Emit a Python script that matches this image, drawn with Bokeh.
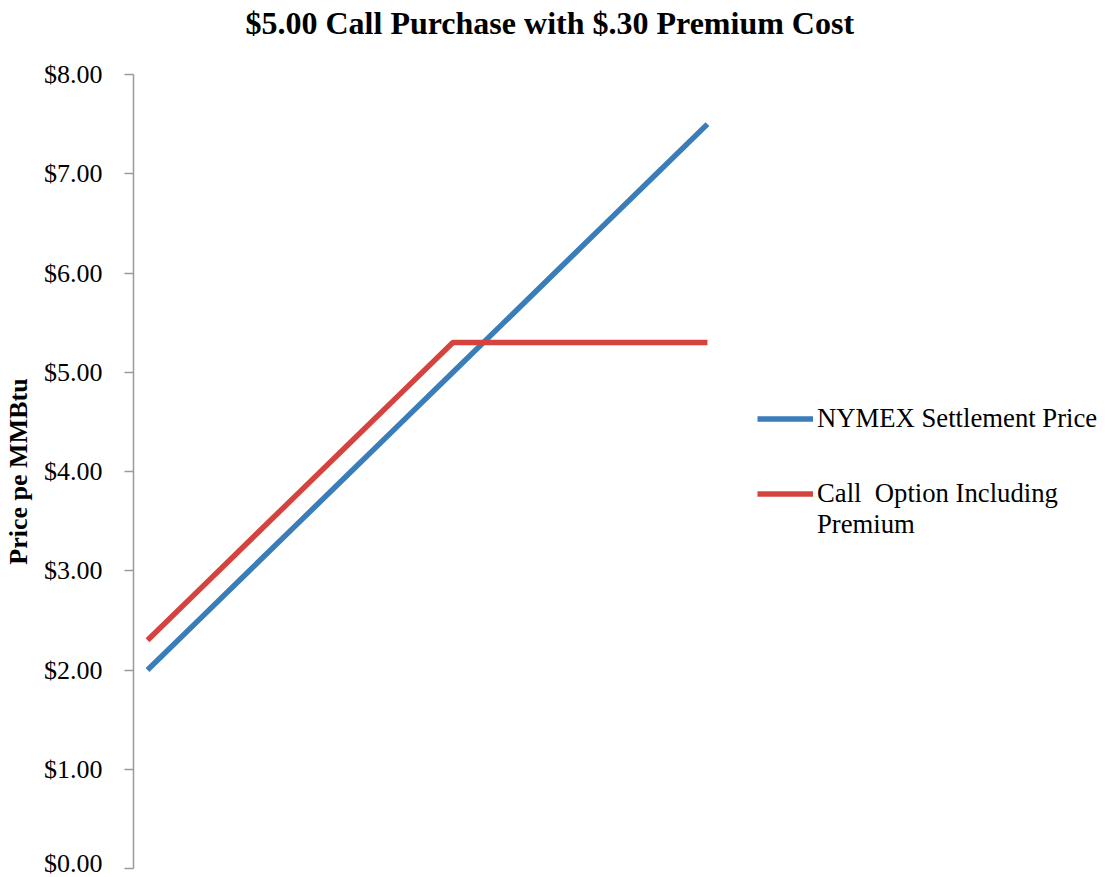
from bokeh.plotting import figure
from bokeh.models import Legend, LegendItem, Range1d, NumeralTickFormatter, FixedTicker, Title
from bokeh.embed import file_html
from bokeh.resources import INLINE

# NYMEX settlement prices (x) and the resulting cost per MMBtu
settlement = [2.00, 2.50, 3.00, 3.50, 4.00, 4.50, 5.00, 5.50, 6.00, 6.50, 7.00, 7.50]
nymex_price = [2.00, 2.50, 3.00, 3.50, 4.00, 4.50, 5.00, 5.50, 6.00, 6.50, 7.00, 7.50]
call_with_premium = [2.30, 2.80, 3.30, 3.80, 4.30, 4.80, 5.30, 5.30, 5.30, 5.30, 5.30, 5.30]
y_ticks = [0, 1, 2, 3, 4, 5, 6, 7, 8]
title_text = "$5.00 Call Purchase with $.30 Premium Cost"

SERIF = "Liberation Serif"
BLUE = "#3A7DB9"
RED = "#D6433F"

p = figure(width=1105, height=877, output_backend="svg", toolbar_location=None,
           x_range=Range1d(1.8625, 11.41), y_range=Range1d(0, 8),
           min_border_left=133, min_border_right=0, min_border_bottom=9,
           min_border_top=0)

# gap between the title and the top of the plot
p.add_layout(Title(text=" ", text_font_size="1px", standoff=25), "above")

p.title.text = title_text
p.title.text_font = SERIF
p.title.text_font_size = "32px"
p.title.text_font_style = "bold"
p.title.text_color = "black"
p.title.align = "left"
p.title.offset = 112
p.title.vertical_align = "top"
p.title.standoff = 8

p.outline_line_color = None
p.xgrid.visible = False
p.ygrid.visible = False
p.xaxis.visible = False

ya = p.yaxis[0]
ya.ticker = FixedTicker(ticks=y_ticks)
ya.formatter = NumeralTickFormatter(format="$0.00")
ya.axis_line_color = "#9A9A9A"
ya.axis_line_width = 1.5
ya.major_tick_line_color = "#9A9A9A"
ya.major_tick_line_width = 1.5
ya.major_tick_in = 0
ya.major_tick_out = 9
ya.minor_tick_line_color = None
ya.major_label_text_font = SERIF
ya.major_label_text_font_size = "26px"
ya.major_label_text_color = "black"
ya.major_label_standoff = 22
ya.axis_label = "Price pe MMBtu"
ya.axis_label_text_font = SERIF
ya.axis_label_text_font_style = "bold"
ya.axis_label_text_font_size = "26px"
ya.axis_label_text_color = "black"
ya.axis_label_standoff = 8

r1 = p.line(settlement, nymex_price, line_color=BLUE, line_width=5.5)
r2 = p.line(settlement, call_with_premium, line_color=RED, line_width=5.5)
# second text line of the red entry carries no glyph of its own
r_blank = p.line(settlement[:1], call_with_premium[:1], line_alpha=0)


def styled_legend(items, location):
    lg = Legend(items=items, location=location)
    lg.label_text_font = SERIF
    lg.label_text_font_size = "26.7px"
    lg.label_text_color = "black"
    lg.glyph_width = 56
    lg.glyph_height = 31
    lg.label_height = 31
    lg.label_standoff = 4
    lg.spacing = 0
    lg.padding = 0
    lg.margin = 0
    lg.border_line_color = None
    lg.background_fill_alpha = 0
    return lg


p.add_layout(styled_legend([LegendItem(label="NYMEX Settlement Price", renderers=[r1])],
                           (624, 434)))
p.add_layout(styled_legend([LegendItem(label="Call  Option Including", renderers=[r2]),
                            LegendItem(label="Premium", renderers=[r_blank])],
                           (624, 328)))

open("out.html", "w").write(file_html(p, INLINE))
